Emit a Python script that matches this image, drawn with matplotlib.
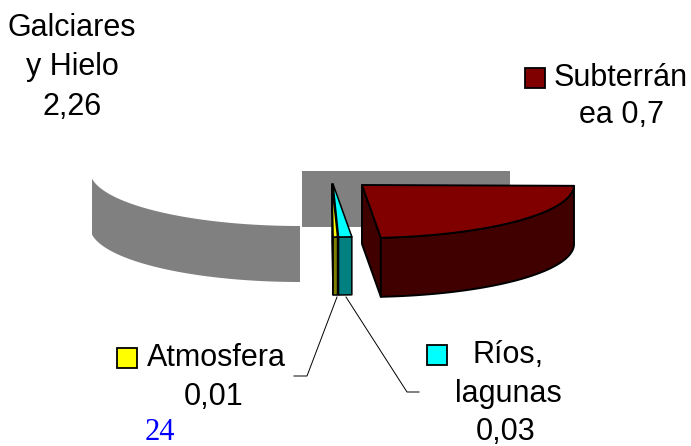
import numpy as np, matplotlib
matplotlib.use("Agg"); import matplotlib.pyplot as plt
from matplotlib.patches import Polygon, Rectangle

# order = clockwise from 3 o'clock, as the pie is drawn
names=["Subterránea","Ríos, lagunas","Atmosfera","Galciares y Hielo"]
values=[0.7,0.03,0.01,2.26]
top_cols=["#800000","#00ffff","#ffff00","#ffffff"]
side_cols=["#400000","#008080","#808000","#808080"]

plt.rcParams['font.family']=['Liberation Sans','DejaVu Sans']
fig=plt.figure(figsize=(6.91,4.46),dpi=100)
ax=fig.add_axes([0,0,1,1]); ax.set_xlim(0,691); ax.set_ylim(446,0); ax.axis('off')

angles=np.cumsum([0]+values)/sum(values)*360+0.9   # pie is turned a touch
def arc(c,a,b,t0,t1,dy=0):
    t=np.radians(np.linspace(t0,t1,60))
    return np.column_stack([c[0]+a*np.cos(t),c[1]+b*np.sin(t)+dy])
def wedge(c,t0,t1,h,top,side,a=212,b=53,z=3,lw=1.4):
    rim=arc(c,a,b,t0,t1)
    low=arc(c,a,b,t0,t1,h)
    # radial wall on the near cut, then the outer wall, then the top
    ax.add_patch(Polygon([c,(c[0],c[1]+h),low[-1],rim[-1]],fc=side,ec='k',lw=lw,joinstyle='round',zorder=z))
    ax.add_patch(Polygon(np.vstack([rim,low[::-1]]),fc=side,ec='k',lw=lw,joinstyle='round',zorder=z+.1))
    ax.add_patch(Polygon(np.vstack([[c],rim]),fc=top,ec='k',lw=lw,joinstyle='round',zorder=z+.2))

# glaciares: exploded to the lower left, only the grey walls rendered
gc=(300,171); gh=56
ax.add_patch(Rectangle((gc[0]+2,gc[1]),208,gh,fc=side_cols[3],ec='none',zorder=1))
g_top=arc(gc,210,55,max(angles[3],90),172); g_low=arc(gc,210,55,max(angles[3],90),175,gh)
g_band=np.vstack([g_top,g_low[::-1]]); g_band[:,0]=np.maximum(g_band[:,0],92)
ax.add_patch(Polygon(g_band,fc=side_cols[3],ec='none',zorder=1))

wedge((362,185),angles[0],angles[1],59,top_cols[0],side_cols[0],z=2)
wedge((333,184),angles[1],angles[2],58,top_cols[1],side_cols[1],z=4,lw=1.1)
wedge((332,184),angles[2],angles[3],58,top_cols[2],side_cols[2],z=5,lw=1.1)

# leaders
ax.plot([337,307,294],[297,376,376],color='k',lw=.7,zorder=6)
ax.plot([346,407,419],[297,392,392],color='k',lw=.7,zorder=6)

# legend keys
for x,y,c in [(525.5,67.5,top_cols[0]),(117.5,347.5,top_cols[2]),(427.5,344.5,top_cols[1])]:
    ax.add_patch(Rectangle((x,y),20,20,fc=c,ec='k',lw=1.3,zorder=6))

fs=22
def f(v): return f"{v:g}".replace('.',',')
def lab(x,y,s): ax.text(x,y,s,ha='center',va='baseline',fontsize=fs)
lab(72,36,"Galciares"); lab(72,75,"y Hielo"); lab(72.5,115,f(values[3]))
lab(621,86,"Subterrán"); lab(621.5,123,f"ea {f(values[0])}")
lab(216,366,"Atmosfera"); lab(214,405,f(values[2]))
lab(508,363,"Ríos,"); lab(508,402,"lagunas"); lab(506,440,f(values[1]))
ax.text(145,440,"24",ha='left',va='baseline',fontsize=fs,color='#0000ff',family='Liberation Serif')

plt.savefig("out.png",dpi=100)
